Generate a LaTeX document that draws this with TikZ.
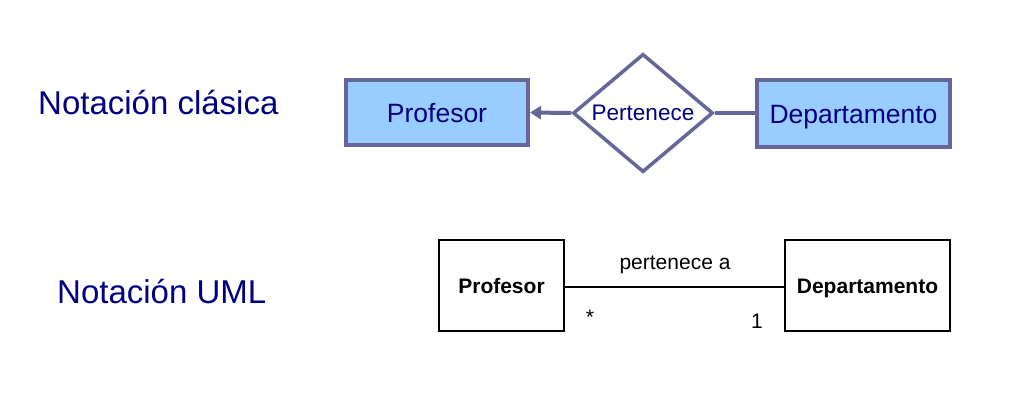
\documentclass[tikz,border=0pt]{standalone}
\usepackage{fontspec}
\setmainfont{Liberation Sans}
\usetikzlibrary{shapes.geometric,arrows.meta}
\definecolor{navy}{HTML}{000080}
\definecolor{erline}{HTML}{666699}
\definecolor{erfill}{HTML}{99CCFF}
\tikzset{
  erbox/.style={draw=erline, fill=erfill, line width=4pt, inner sep=0pt, text=navy, text height=19pt, text depth=0pt, font=\fontsize{26.5}{30}\selectfont},
  erdiam/.style={draw=erline, fill=white, line width=3.5pt, diamond, inner sep=0pt, minimum width=140pt, minimum height=113pt, text=navy, font=\fontsize{22.5}{26}\selectfont},
  erline/.style={draw=erline, line width=4pt},
  umlbox/.style={draw=black, line width=1.2pt, inner sep=0pt, text height=15pt, text depth=0pt, font=\bfseries\fontsize{21}{25}\selectfont},
  umltext/.style={font=\fontsize{21}{25}\selectfont, inner sep=0pt},
  title/.style={text=navy, font=\fontsize{33}{37}\selectfont, anchor=west, inner sep=0pt}
}
\begin{document}
\begin{tikzpicture}[x=1pt,y=-1pt]
\useasboundingbox (0,0) rectangle (1013,416);
% left labels
\node[title] (t1) at (38,103) {Notación clásica};
\node[title] (t2) at (57,292) {Notación UML};
% classic notation
\node[erbox, minimum width=182pt, minimum height=65pt] (p1) at (437,112.5) {Profesor};
\node[erdiam] (d1) at (643,113) {Pertenece};
\node[erbox, minimum width=193pt, minimum height=67pt] (dep1) at (853.5,113.5) {Departamento};
\draw[erline, -{Triangle[length=11pt,width=13pt]}] (d1.west) -- (p1.east);
\draw[erline] (d1.east) -- (dep1.west |- d1.east);
% UML notation
\node[umlbox, minimum width=125pt, minimum height=91pt] (p2) at (501.5,285.5) {Profesor};
\node[umlbox, minimum width=165pt, minimum height=91pt] (dep2) at (867.5,285.5) {Departamento};
\draw[line width=1.2pt] (p2.east |- 0,287) coordinate (la) -- (dep2.west |- 0,287) coordinate (lb);
\node[umltext] (assoc) at (675,265) {pertenece a};
\node[umltext] (m1) at (590,317) {*};
\node[umltext] (m2) at (757,321) {1};
\end{tikzpicture}
\end{document}
